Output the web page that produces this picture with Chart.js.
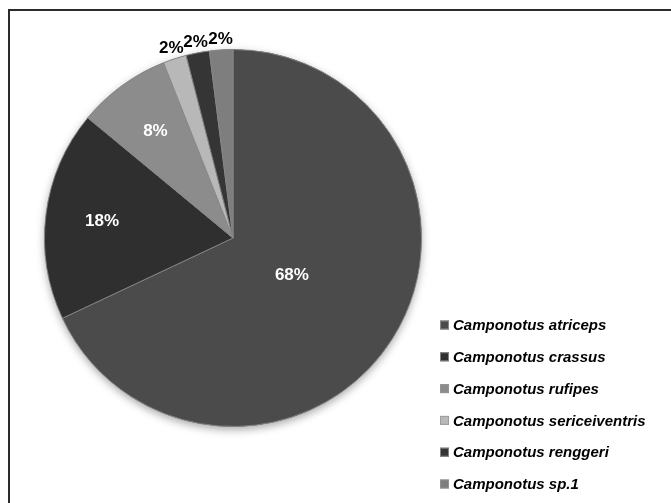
<!DOCTYPE html>
<html>
<head>
<meta charset="utf-8">
<script src="https://cdn.jsdelivr.net/npm/chart.js@4.4.0/dist/chart.umd.min.js"></script>
<style>
  html, body { margin: 0; padding: 0; background: #ffffff; }
  #wrap { position: relative; width: 671px; height: 503px; }
</style>
</head>
<body>
<div id="wrap"><canvas id="chart" width="671" height="503"></canvas></div>
<script>
// Species and their share of the collected ants (%)
const species = [
  'Camponotus atriceps',
  'Camponotus crassus',
  'Camponotus rufipes',
  'Camponotus sericeiventris',
  'Camponotus renggeri',
  'Camponotus sp.1'
];
const shares = [68, 18, 8, 2, 2, 2];
const sliceColors = ['#4b4b4b', '#2f2f2f', '#8c8c8c', '#b8b8b8', '#353535', '#7e7e7e'];

const FONT = "'Liberation Sans', Arial, sans-serif";

// Outer frame (only the top and left edges fall inside the canvas)
const framePlugin = {
  id: 'frame',
  beforeDraw(chart) {
    const ctx = chart.ctx;
    ctx.save();
    ctx.fillStyle = '#ffffff';
    ctx.fillRect(0, 0, chart.width, chart.height);
    ctx.strokeStyle = '#2b2b2b';
    ctx.lineWidth = 2;
    ctx.beginPath();
    ctx.moveTo(9, chart.height + 5);
    ctx.lineTo(9, 10);
    ctx.lineTo(chart.width + 5, 10);
    ctx.stroke();
    ctx.restore();
  }
};

// Soft shadow under the whole pie
const shadowPlugin = {
  id: 'pieShadow',
  beforeDatasetsDraw(chart) {
    const arc = chart.getDatasetMeta(0).data[0];
    if (!arc) return;
    const { x, y, outerRadius } = arc.getProps(['x', 'y', 'outerRadius'], true);
    const ctx = chart.ctx;
    ctx.save();
    ctx.shadowColor = 'rgba(0,0,0,0.35)';
    ctx.shadowBlur = 8;
    ctx.shadowOffsetY = 3;
    ctx.fillStyle = '#555555';
    ctx.beginPath();
    ctx.arc(x, y, outerRadius, 0, Math.PI * 2);
    ctx.fill();
    ctx.restore();
  }
};

// Percentage labels: big slices inside in white, tiny ones outside in black
const labelPlugin = {
  id: 'pctLabels',
  afterDatasetsDraw(chart) {
    const ctx = chart.ctx;
    const meta = chart.getDatasetMeta(0);
    ctx.save();
    ctx.font = 'bold 17px ' + FONT;
    ctx.textAlign = 'center';
    ctx.textBaseline = 'middle';
    meta.data.forEach((arc, i) => {
      const p = arc.getProps(['x', 'y', 'startAngle', 'endAngle', 'outerRadius'], true);
      const mid = (p.startAngle + p.endAngle) / 2;
      const v = shares[i];
      let dist, color;
      if (v >= 50) { dist = p.outerRadius * 0.37; color = '#ffffff'; }
      else if (v >= 5) { dist = p.outerRadius * 0.7; color = '#ffffff'; }
      else { dist = p.outerRadius + 11; color = '#000000'; }
      ctx.fillStyle = color;
      ctx.fillText(v + '%', p.x + Math.cos(mid) * dist, p.y + Math.sin(mid) * dist);
    });
    ctx.restore();
  }
};

// Legend drawn by hand in the lower right corner
const legendPlugin = {
  id: 'sideLegend',
  afterDraw(chart) {
    const ctx = chart.ctx;
    const boxX = 440, textX = 453, firstY = 325, step = 31.8, box = 9;
    ctx.save();
    ctx.font = 'italic bold 15px ' + FONT;
    ctx.textBaseline = 'middle';
    ctx.textAlign = 'left';
    species.forEach((name, i) => {
      const y = firstY + i * step;
      ctx.fillStyle = sliceColors[i];
      ctx.fillRect(boxX, y - box / 2, box, box);
      ctx.strokeStyle = 'rgba(150,150,150,0.8)';
      ctx.lineWidth = 1;
      ctx.strokeRect(boxX + 0.5, y - box / 2 + 0.5, box - 1, box - 1);
      ctx.fillStyle = '#000000';
      ctx.fillText(name, textX, y + 1);
    });
    ctx.restore();
  }
};

new Chart(document.getElementById('chart'), {
  type: 'pie',
  data: {
    labels: species,
    datasets: [{
      data: shares,
      backgroundColor: sliceColors,
      borderColor: 'rgba(135,135,135,0.9)',
      borderWidth: 1
    }]
  },
  options: {
    responsive: false,
    animation: false,
    rotation: 0,
    layout: { padding: { top: 49, bottom: 76, left: 44, right: 249 } },
    plugins: {
      legend: { display: false },
      tooltip: { enabled: false }
    }
  },
  plugins: [framePlugin, shadowPlugin, labelPlugin, legendPlugin]
});
</script>
</body>
</html>
